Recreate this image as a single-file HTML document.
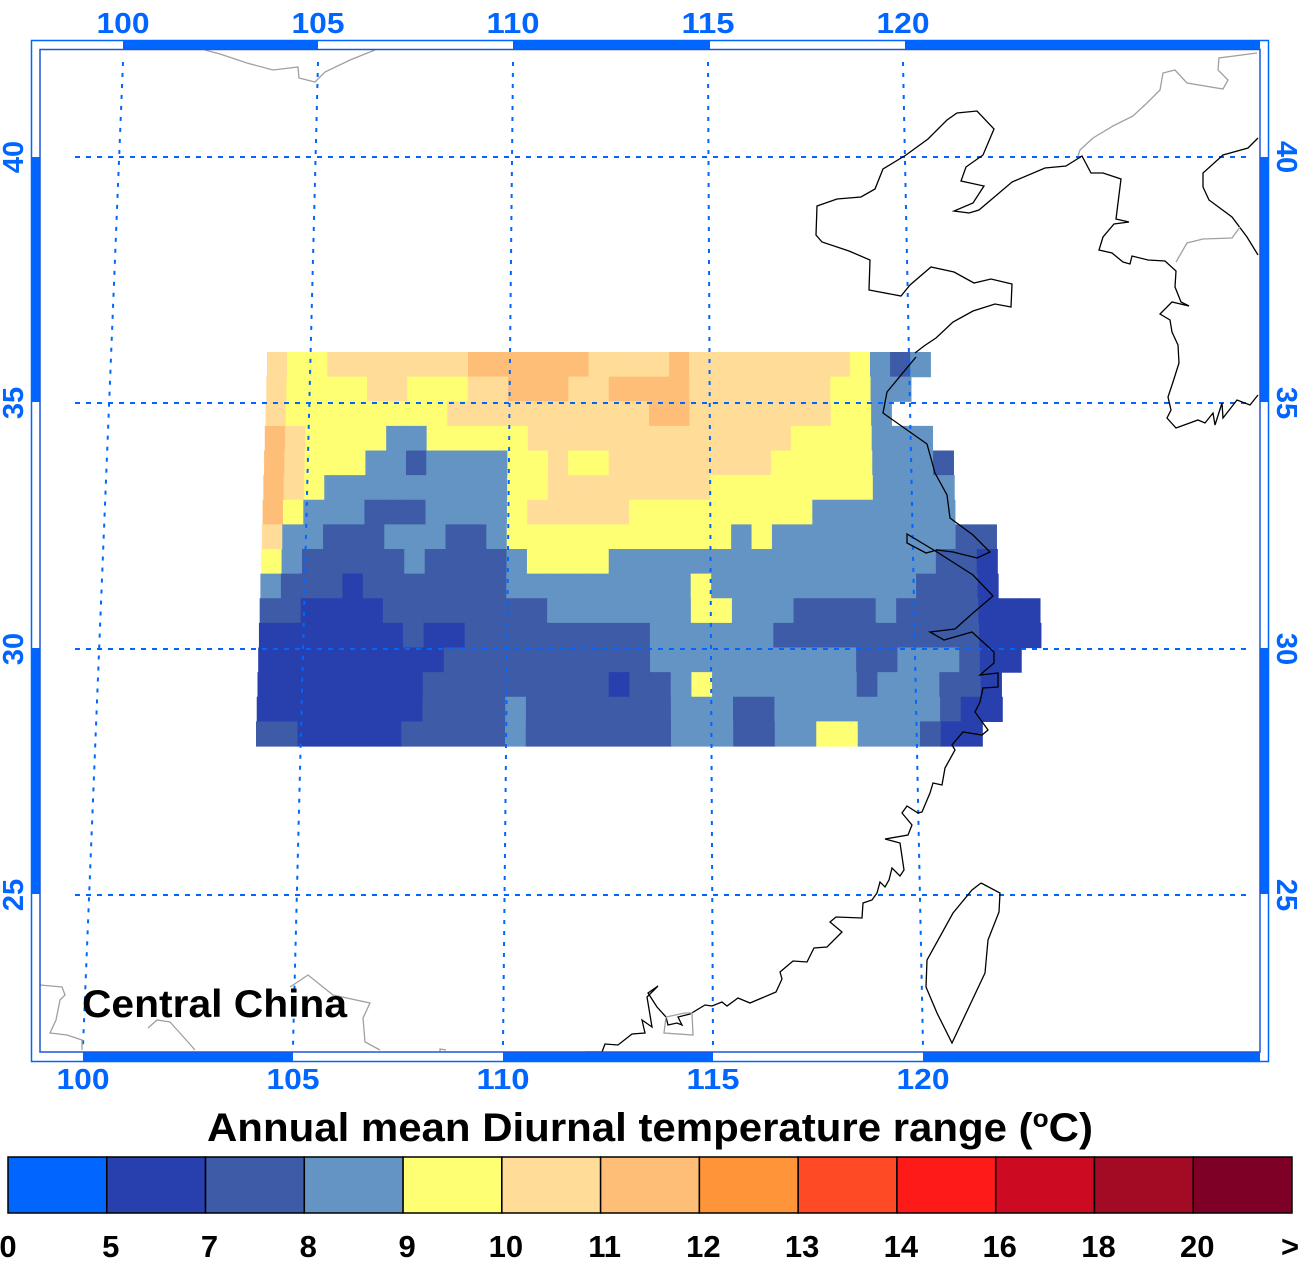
<!DOCTYPE html>
<html><head><meta charset="utf-8"><style>
body{margin:0;background:#fff;width:1300px;height:1264px;overflow:hidden}
svg text{font-family:"Liberation Sans",sans-serif;font-weight:bold}
</style></head><body>
<svg id="chart" width="1300" height="1264" viewBox="0 0 1300 1264" xmlns="http://www.w3.org/2000/svg">
<g id="cells"></g>
<g id="grid"></g>
<g id="coast" fill="none" stroke-width="1.3"></g>
<g id="frame"></g>
<g id="ticks"></g>
<text x="82" y="1017" font-size="39" fill="#000" textLength="265" lengthAdjust="spacingAndGlyphs">Central China</text>
<text x="207" y="1141" font-size="40" fill="#000" textLength="886" lengthAdjust="spacingAndGlyphs">Annual mean Diurnal temperature range (<tspan font-size="25" dy="-14">o</tspan><tspan dy="14">C)</tspan></text>
<g id="legend"></g>
</svg>
<script>
// colour bin boundaries and labels
const binLabels = ["0","5","7","8","9","10","11","12","13","14","16","18","20",">"];
const binColors = ["#0066ff","#2840ae","#3d5ba6","#6494c4","#ffff73","#ffdd99","#ffbe77","#ff9438","#fe4a25","#ff1a1a","#cc0a22","#a30a23","#7f0026"];
// gridded values as bin index per cell (row 0 = north, 36N), '.' = no data
const gridRows = [
"544555555566666655556555555554323",
"54444554445566655666655555554433",
"5444444445555555555665555555443",
"654444334444455555555555554444333",
"6544433233334454455555555444443332",
"6543333333334455555555444444443333",
"6433322233334555554444444443333333",
"533222333223444444444443433333333322",
"432222232222344443333333333333333221",
"322212222222333333333433333333332221",
"22111122222222333333344333222232222111",
"11111112112222222223333332222222222111",
"1111111112222222222333333333322333211",
"111111112222222221223433333332333221",
"111111112222322222223332233333333211",
"22111112222232222222333223344333211"
];
const lonTicks = [100,105,110,115,120];
const latTicks = [40,35,30,25];

const NS="http://www.w3.org/2000/svg";
function mk(tag,attrs,parent){const e=document.createElementNS(NS,tag);for(const k in attrs)e.setAttribute(k,attrs[k]);parent.appendChild(e);return e;}

const rowTop=352, rowH=24.625;
function rowX0(r){return 267 - r*(11/15);}
function rowW(r){return 20.1 + r*(0.65/15);}
function lonTopX(lon){return 123 + (lon-100)*39;}
function lonBotX(lon){return 83 + (lon-100)*42;}
function latY(lat){return 157 + (40-lat)*49.2;}

const cells=document.getElementById('cells');
gridRows.forEach((row,r)=>{
  for(let c=0;c<row.length;c++){
    const ch=row[c]; if(ch==='.') continue;
    const el=mk('rect',{x:(rowX0(r)+c*rowW(r)).toFixed(2),y:(rowTop+r*rowH).toFixed(2),width:(rowW(r)+0.6).toFixed(2),height:(rowH+0.6).toFixed(2),fill:binColors[+ch]},cells);
    
    
  }
});

const grid=document.getElementById('grid');
lonTicks.forEach(l=>{
  const el=mk('line',{x1:lonTopX(l),y1:62,x2:lonBotX(l),y2:1046,stroke:'#0066ff','stroke-width':2,'stroke-dasharray':'4 7'},grid);
  
  
});
latTicks.forEach(l=>{
  const y=latY(l);
  const el=mk('line',{x1:75,y1:y,x2:1250,y2:y,stroke:'#0066ff','stroke-width':2,'stroke-dasharray':'5 6'},grid);
  
  
});

const coast=document.getElementById('coast');
const blackLines=[
"915,353 924,346 936,338 953,322 973,311 995,304 1011,307 1012,284 991,279 974,283 954,272 931,267 910,285 901,296 869,290 870,260 849,251 822,242 816,235 817,206 837,199 861,197 875,189 883,169 906,155 928,139 947,120 957,113 977,111 994,129 983,155 966,167 961,181 984,186 973,203 954,211 969,213 979,210 1012,182 1045,168 1066,166 1082,156 1091,173 1103,173 1121,179 1116,219 1129,222 1114,224 1103,237 1099,250 1112,253 1123,262 1130,264 1132,256 1148,260 1165,261 1176,271 1175,287 1181,302 1189,306 1172,302 1160,314 1170,320 1172,332 1178,345 1179,363 1173,382 1168,397 1171,410 1167,418 1176,428 1198,420 1205,423 1213,413 1215,425 1222,403 1223,418 1237,400 1250,405 1258,395",
"1258,138 1248,148 1223,155 1203,173 1203,187 1209,200 1232,217 1247,237 1258,255",
"916,357 887,392 883,413 900,425 927,444 935,473 947,495 950,518 973,535 990,552 977,558 953,552 937,550 926,553 907,543 907,534 937,552 973,575 993,596 973,613 955,629 930,632 944,640 972,632 994,652 994,663 980,675 998,673 998,687 983,688 980,702 975,712 988,730 982,735 963,732 952,745 955,750 945,768 942,785 933,783 930,793 922,812 918,813 907,806 902,813 912,825 908,835 885,839 900,843 904,870 900,876 892,868 889,880 885,887 880,882 877,893 872,900 863,903 862,918 836,917 830,922 842,932 827,947 814,948 807,962 793,961 780,972 782,979 776,992 750,1003 738,998 727,1006 722,1002 712,1006 705,1005 690,1014 678,1017 682,1025 677,1023 668,1025 666,1017 657,1007 648,993 658,986 647,997 652,1027 642,1020 645,1033 632,1034 618,1045 605,1044 602,1052 585,1052",
"981,883 1000,893 999,912 988,940 985,973 952,1043 937,1013 926,987 927,960 953,913 972,890 981,883"
];
const grayLines=[
"1078,156 1080,150 1093,138 1113,126 1133,116 1147,103 1160,90 1163,73 1175,70 1187,83 1223,89 1228,80 1218,70 1219,58 1257,53",
"1176,262 1187,243 1203,239 1232,238 1240,227",
"205,50 220,54 247,63 273,70 298,67 299,78 315,82 325,72 350,60 375,50",
"40,985 62,987 65,995 60,1000 56,1020 50,1033 67,1035 82,1040 82,1050",
"148,1028 157,1020 170,1022 188,1042 195,1050",
"290,987 308,975 333,995 370,1003 363,1018 365,1042 380,1050",
"666,1017 664,1033 693,1035 692,1013 685,1013 666,1017",
"440,1052 440,1049 446,1050"
];
blackLines.forEach(p=>{const e=mk('polyline',{points:p,stroke:'#000'},coast);});
grayLines.forEach(p=>{const e=mk('polyline',{points:p,stroke:'#a0a0a0'},coast);});

const frame=document.getElementById('frame');
const B='#0066ff';
[[123,40,195,10],[513,40,197,10],[905,40,355,10],[83,1052,210,10],[503,1052,210,10],[923,1052,337,10],[31,157,9,245],[31,648,9,246],[1260,157,9,245],[1260,648,9,246]].forEach(a=>{
  const e=mk('rect',{x:a[0],y:a[1],width:a[2],height:a[3],fill:B},frame);
  
  
});
mk('rect',{x:31.5,y:40.5,width:1237,height:1021,fill:'none',stroke:B,'stroke-width':1.5},frame);
mk('rect',{x:40,y:49.5,width:1220,height:1002.5,fill:'none',stroke:'#1f55d8','stroke-width':1.5},frame);

const ticks=document.getElementById('ticks');
lonTicks.forEach(l=>{
  let e=mk('text',{x:lonTopX(l),y:33,'font-size':29,fill:B,'text-anchor':'middle',textLength:53,lengthAdjust:'spacingAndGlyphs'},ticks);e.textContent=l;
  
  e=mk('text',{x:lonBotX(l),y:1089,'font-size':29,fill:B,'text-anchor':'middle',textLength:53,lengthAdjust:'spacingAndGlyphs'},ticks);e.textContent=l;
  
});
latTicks.forEach(l=>{
  const y=latY(l);
  let e=mk('text',{x:0,y:0,'font-size':29,fill:B,'text-anchor':'middle',transform:`translate(23,${y}) rotate(-90)`},ticks);e.textContent=l;
  
  e=mk('text',{x:0,y:0,'font-size':29,fill:B,'text-anchor':'middle',transform:`translate(1277,${y}) rotate(90)`},ticks);e.textContent=l;
  
});

const legend=document.getElementById('legend');
const lx=8, lw=(1292-8)/binColors.length;
binColors.forEach((c,i)=>{
  const e=mk('rect',{x:lx+i*lw,y:1157,width:lw,height:56,fill:c,stroke:'#000','stroke-width':1.5},legend);
  
  
});
binLabels.forEach((t,i)=>{
  const x=i===0?8:(i===binLabels.length-1?1290:lx+i*lw+4);
  const e=mk('text',{x:x,y:1257,'font-size':31,fill:'#000','text-anchor':'middle'},legend);
  e.textContent=t;
  
  
});
</script>
</body></html>
